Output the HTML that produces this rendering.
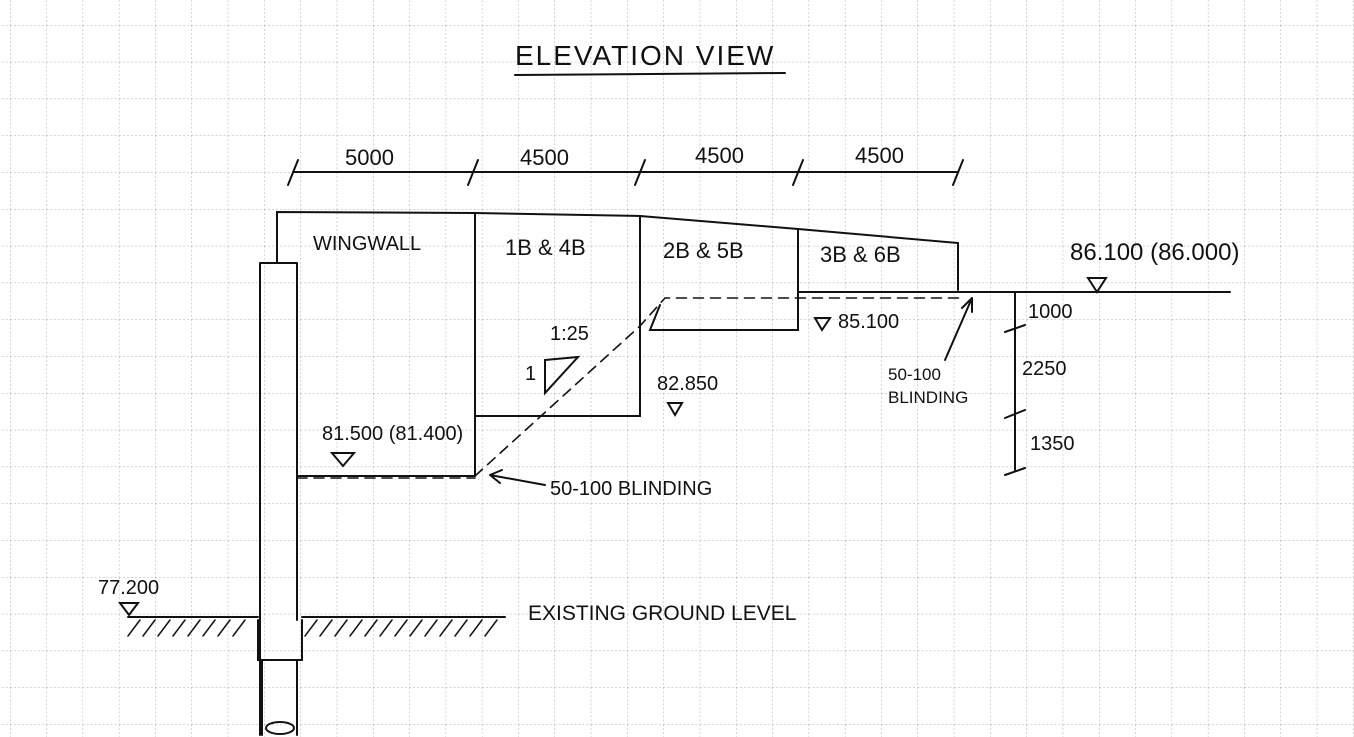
<!DOCTYPE html>
<html><head><style>
body{margin:0;background:#fff}
svg{display:block}
text{font-family:"Liberation Sans",sans-serif;fill:#111}
</style></head><body>
<svg width="1354" height="737" viewBox="0 0 1354 737" xmlns="http://www.w3.org/2000/svg">
<defs>
<pattern id="g" x="10" y="25" width="36.3" height="36.8" patternUnits="userSpaceOnUse">
<path d="M0 0H36.3M0 0V36.8" stroke="#aaa" stroke-width="1" stroke-dasharray="2 2" fill="none"/>
</pattern>
</defs>
<rect width="1354" height="737" fill="#fff"/>
<rect width="1354" height="737" fill="url(#g)"/>
<g stroke="#111" stroke-width="2" fill="none" stroke-linecap="round">
<!-- title underline -->
<path d="M515 75 L785 73"/>
<!-- dimension line -->
<path d="M293 172 L958 172"/>
<path d="M288 185 L298 160 M468 185 L478 160 M635 185 L645 160 M793 185 L803 160 M953 185 L963 160"/>
<!-- outlines -->
<path d="M277 263 L277 212 L475 213 L640 216 L798 229 L958 243 L958 290"/>
<path d="M260 263 L297 263 M260 263 L260 735 M297 263 L297 620"/>
<path d="M258 620 L258 660 L302 660 L302 620"/>
<path d="M262 660 L262 735 M297 660 L297 735"/>
<ellipse cx="280" cy="728" rx="14" ry="6"/>
<path d="M475 213 L475 476 L297 476"/>
<path d="M475 416 L640 416 L640 216"/>
<path d="M798 229 L798 330 L650 330 L660 305"/>
<path d="M798 292 L1230 292"/>
<!-- dashed -->
<path d="M297 478 L475 478 M475 476 L640 326 L665 298 L960 298" stroke-dasharray="10 7" stroke-width="1.6"/>
<!-- slope triangle -->
<path d="M545 360 L578 357 L545 393 Z"/>
<!-- vertical dims -->
<path d="M1015 292 L1015 470"/>
<path d="M1005 332 L1025 325 M1005 418 L1025 410 M1005 475 L1025 468"/>
<!-- level markers -->
<path d="M1088 278 L1106 278 L1097 292 Z"/>
<path d="M815 318 L830 318 L822 330 Z"/>
<path d="M668 403 L682 403 L675 415 Z"/>
<path d="M332 453 L354 453 L343 466 Z"/>
<path d="M120 603 L138 603 L129 615 Z"/>
<!-- arrows -->
<path d="M545 485 L490 475 M490 475 L502 470 M490 475 L500 483"/>
<path d="M945 360 L972 298 M972 298 L962 308 M972 298 L972 312"/>
<!-- ground -->
<path d="M128 617 L258 617 M302 617 L505 617"/>
<path d="M128 636 L140 620 M143 636 L155 620 M158 636 L170 620 M173 636 L185 620 M188 636 L200 620 M203 636 L215 620 M218 636 L230 620 M233 636 L245 620 M305 636 L317 620 M320 636 L332 620 M335 636 L347 620 M350 636 L362 620 M365 636 L377 620 M380 636 L392 620 M395 636 L407 620 M410 636 L422 620 M425 636 L437 620 M440 636 L452 620 M455 636 L467 620 M470 636 L482 620 M485 636 L497 620" stroke-width="1.5"/>
</g>
<g font-size="22">
<text x="515" y="65" font-size="28" letter-spacing="2">ELEVATION VIEW</text>
<text x="345" y="165">5000</text>
<text x="520" y="165">4500</text>
<text x="695" y="163">4500</text>
<text x="855" y="163">4500</text>
<text x="313" y="250" font-size="20">WINGWALL</text>
<text x="505" y="255">1B &amp; 4B</text>
<text x="663" y="258">2B &amp; 5B</text>
<text x="820" y="262">3B &amp; 6B</text>
<text x="1070" y="260" font-size="24">86.100 (86.000)</text>
<text x="1028" y="318" font-size="20">1000</text>
<text x="1022" y="375" font-size="20">2250</text>
<text x="1030" y="450" font-size="20">1350</text>
<text x="838" y="328" font-size="20">85.100</text>
<text x="888" y="380" font-size="17">50-100</text>
<text x="888" y="403" font-size="17">BLINDING</text>
<text x="550" y="340" font-size="20">1:25</text>
<text x="525" y="380" font-size="20">1</text>
<text x="657" y="390" font-size="20">82.850</text>
<text x="322" y="440" font-size="20">81.500 (81.400)</text>
<text x="550" y="495" font-size="20">50-100 BLINDING</text>
<text x="98" y="594" font-size="20">77.200</text>
<text x="528" y="620" font-size="21">EXISTING GROUND LEVEL</text>
</g>
</svg>
</body></html>
